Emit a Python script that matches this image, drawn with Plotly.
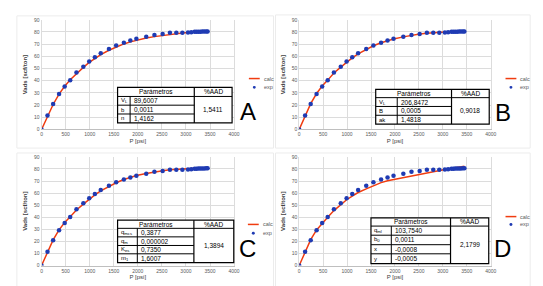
import plotly.graph_objects as go

W, H = 543, 286

# ---- data ----
pressure = [0, 123, 240, 363, 480, 595, 725, 868, 990, 1108, 1230, 1400, 1550, 1710, 1845, 1970,
            2175, 2345, 2516, 2667, 2800, 2926, 3043, 3110, 3180, 3220, 3260, 3300, 3340, 3380, 3420, 3450]
v_exp = [0, 11.5, 21, 29.2, 35.3, 40.3, 46.7, 51.5, 55.8, 59.3, 62.5, 66, 69, 71.2, 73, 74.4,
         76, 77.6, 78.4, 79.3, 79.4, 79.4, 79.5, 79.8, 80.1, 80.2, 80.3, 80.3, 80.4, 80.4, 80.5, 80.5]
v_calc_A = [0, 10.5, 20.5, 29, 35.5, 40.8, 46, 51, 55, 58.3, 61.5, 65, 67.8, 70.2, 71.9, 73.2,
            75, 76.2, 77.2, 78, 78.6, 79.1, 79.5, 79.7, 79.9, 80, 80.1, 80.2, 80.3, 80.3, 80.4, 80.4]
v_calc_B = [0, 11.0, 21.2, 29.5, 35.6, 40.5, 46.3, 51.2, 55.3, 58.8, 62, 65.8, 68.7, 71.2, 73, 74.3,
            76, 77.3, 78.3, 79, 79.5, 79.8, 80.1, 80.2, 80.3, 80.4, 80.5, 80.5, 80.6, 80.6, 80.7, 80.7]
v_calc_C = [0, 11.2, 21.3, 29.6, 35.6, 40.4, 46.0, 50.9, 55.0, 58.5, 61.8, 65.6, 68.6, 71.2, 73.1, 74.5,
            76.3, 77.6, 78.6, 79.3, 79.8, 80.1, 80.3, 80.4, 80.5, 80.6, 80.6, 80.7, 80.7, 80.8, 80.8, 80.8]
v_calc_D = [0, 11, 21.5, 29.5, 35, 40, 45.5, 50.5, 54.5, 57.5, 60.5, 63.5, 66.2, 68.7, 70.2, 71.2,
            72.8, 74.5, 75.9, 77, 78, 78.8, 79.5, 80, 80.5, 80.8, 81.1, 81.4, 81.6, 81.8, 82, 82.2]

x_ticks = [0, 500, 1000, 1500, 2000, 2500, 3000, 3500, 4000]
y_ticks = [0, 10, 20, 30, 40, 50, 60, 70, 80, 90]

param_labels_A = ["V<sub>L</sub>", "b", "n"]
param_values_A = ["89,6007", "0,0011", "1,4162"]
aad_A = "1,5411"
param_labels_B = ["V<sub>L</sub>", "B", "ak"]
param_values_B = ["206,8472", "0,0005", "1,4818"]
aad_B = "0,9018"
param_labels_C = ["q<sub>mcs</sub>", "q<sub>m</sub>", "K<sub>es</sub>", "m<sub>1</sub>"]
param_values_C = ["0,3877", "0,000002", "0,7350", "1,6007"]
aad_C = "1,3894"
param_labels_D = ["q<sub>ml</sub>", "b<sub>0</sub>", "x", "y"]
param_values_D = ["103,7540", "0,0011", "-0,0008", "-0,0005"]
aad_D = "2,1799"

FONT = "Liberation Sans"
RED = "#f03c10"
BLUE = "#1f3bb3"

def px(x):
    return x / W

def py(y):
    return 1 - y / H

panels = [
    dict(letter="A", x=(33, 228), y=(9, 121), calc=v_calc_A, labels=param_labels_A, values=param_values_A,
         aad=aad_A, tab=dict(x=(110, 122.7, 187.7, 226), y=(78, 87.3, 96.2, 105.2, 114.3)),
         lpos=(242, 118), leg=(243, 69, 78), frame=(8, 5, 268, 140)),
    dict(letter="B", x=(294, 488), y=(9, 121), calc=v_calc_B, labels=param_labels_B, values=param_values_B,
         aad=aad_B, tab=dict(x=(371.5, 393.3, 448.3, 486.5), y=(80, 88.5, 97.5, 106.5, 115.5)),
         lpos=(500, 120), leg=(503, 69, 78), frame=(270, 4, 528, 140)),
    dict(letter="C", x=(33, 228), y=(149, 260), calc=v_calc_C, labels=param_labels_C, values=param_values_C,
         aad=aad_C, tab=dict(x=(110, 130, 187.3, 227.7), y=(213.7, 222, 230.7, 239.5, 248, 257)),
         lpos=(242, 258), leg=(242, 218, 227), frame=(8, 145, 268, 284)),
    dict(letter="D", x=(294, 488), y=(149, 260), calc=v_calc_D, labels=param_labels_D, values=param_values_D,
         aad=aad_D, tab=dict(x=(366.7, 387.3, 447.3, 486), y=(211.3, 219.7, 229, 238.7, 248, 258)),
         lpos=(500, 258), leg=(503, 210, 218), frame=(270, 145, 528, 284)),
]

fig = go.Figure()
shapes = []
annotations = []

for i, p in enumerate(panels):
    n = "" if i == 0 else str(i + 1)
    xa, ya = "x" + n, "y" + n
    fig.add_trace(go.Scatter(x=pressure, y=p["calc"], mode="lines", name="calc",
                             line=dict(color=RED, width=1.5), xaxis=xa, yaxis=ya, showlegend=False))
    fig.add_trace(go.Scatter(x=pressure, y=v_exp, mode="markers", name="exp",
                             marker=dict(color=BLUE, size=4.5, symbol="circle"),
                             xaxis=xa, yaxis=ya, showlegend=False))
    axis_common = dict(showgrid=True, gridcolor="#dcdcdc", gridwidth=1, zeroline=False,
                       tickfont=dict(size=5, color="#595959", family=FONT), ticks="")
    fig.layout["xaxis" + n] = dict(axis_common, domain=[px(p["x"][0]), px(p["x"][1])],
                                   range=[0, 4000], tickvals=x_ticks, anchor=ya,
                                   showline=True, linecolor="#bfbfbf", linewidth=1,
                                   title=dict(text="P [psi]", font=dict(size=6, color="#404040", family=FONT),
                                              standoff=2))
    fig.layout["yaxis" + n] = dict(axis_common, domain=[py(p["y"][1]), py(p["y"][0])],
                                   range=[0, 90], tickvals=y_ticks, anchor=xa,
                                   showline=True, linecolor="#dcdcdc", linewidth=1, mirror=True,
                                   title=dict(text="<b>Vads [scf/ton]</b>",
                                              font=dict(size=6, color="#404040", family=FONT), standoff=5))
    fx0, fy0, fx1, fy1 = p["frame"]
    shapes.append(dict(type="rect", xref="paper", yref="paper", x0=px(fx0), x1=px(fx1), y0=py(fy1), y1=py(fy0),
                       line=dict(color="#ececec", width=1), layer="below"))
    tx, ty = p["tab"]["x"], p["tab"]["y"]
    shapes.append(dict(type="rect", xref="paper", yref="paper", x0=px(tx[0]), x1=px(tx[3]),
                       y0=py(ty[-1]), y1=py(ty[0]), fillcolor="white", line=dict(color="black", width=1.2)))
    shapes.append(dict(type="line", xref="paper", yref="paper", x0=px(tx[0]), x1=px(tx[3]),
                       y0=py(ty[1]), y1=py(ty[1]), line=dict(color="black", width=1)))
    for yy in ty[2:-1]:
        shapes.append(dict(type="line", xref="paper", yref="paper", x0=px(tx[0]), x1=px(tx[2]),
                           y0=py(yy), y1=py(yy), line=dict(color="black", width=1)))
    shapes.append(dict(type="line", xref="paper", yref="paper", x0=px(tx[1]), x1=px(tx[1]),
                       y0=py(ty[-1]), y1=py(ty[1]), line=dict(color="black", width=1)))
    shapes.append(dict(type="line", xref="paper", yref="paper", x0=px(tx[2]), x1=px(tx[2]),
                       y0=py(ty[-1]), y1=py(ty[0]), line=dict(color="black", width=1.2)))
    tf = dict(size=6.5, color="black", family=FONT)
    annotations.append(dict(text="Parámetros", x=px((tx[0] + tx[2]) / 2), y=py((ty[0] + ty[1]) / 2),
                            xref="paper", yref="paper", showarrow=False, font=tf,
                            xanchor="center", yanchor="middle"))
    annotations.append(dict(text="%AAD", x=px((tx[2] + tx[3]) / 2), y=py((ty[0] + ty[1]) / 2),
                            xref="paper", yref="paper", showarrow=False, font=tf,
                            xanchor="center", yanchor="middle"))
    for k, (lab, val) in enumerate(zip(p["labels"], p["values"])):
        ym = (ty[k + 1] + ty[k + 2]) / 2
        annotations.append(dict(text=lab, x=px(tx[0] + 1.5), y=py(ym), xref="paper", yref="paper",
                                showarrow=False, font=dict(size=6, color="black", family=FONT),
                                xanchor="left", yanchor="middle"))
        annotations.append(dict(text=val, x=px(tx[1] + 2), y=py(ym), xref="paper", yref="paper",
                                showarrow=False, font=tf, xanchor="left", yanchor="middle"))
    annotations.append(dict(text=p["aad"], x=px((tx[2] + tx[3]) / 2), y=py((ty[1] + ty[-1]) / 2),
                            xref="paper", yref="paper", showarrow=False, font=tf,
                            xanchor="center", yanchor="middle"))
    annotations.append(dict(text=p["letter"], x=px(p["lpos"][0]), y=py(p["lpos"][1]), xref="paper",
                            yref="paper", showarrow=False,
                            font=dict(size=24, color="black", family=FONT),
                            xanchor="center", yanchor="bottom"))
    lx, ly1, ly2 = p["leg"]
    shapes.append(dict(type="line", xref="paper", yref="paper", x0=px(lx), x1=px(lx + 11),
                       y0=py(ly1), y1=py(ly1), line=dict(color=RED, width=1.5)))
    shapes.append(dict(type="circle", xref="paper", yref="paper", x0=px(lx + 4), x1=px(lx + 7),
                       y0=py(ly2 + 1.5), y1=py(ly2 - 1.5), fillcolor=BLUE, line=dict(width=0)))
    lf = dict(size=5.5, color="#595959", family=FONT)
    annotations.append(dict(text="calc", x=px(lx + 13), y=py(ly1), xref="paper", yref="paper",
                            showarrow=False, font=lf, xanchor="left", yanchor="middle"))
    annotations.append(dict(text="exp", x=px(lx + 13), y=py(ly2), xref="paper", yref="paper",
                            showarrow=False, font=lf, xanchor="left", yanchor="middle"))

fig.update_layout(width=W, height=H, margin=dict(l=0, r=0, t=0, b=0),
                  paper_bgcolor="white", plot_bgcolor="white",
                  shapes=shapes, annotations=annotations, showlegend=False,
                  font=dict(family=FONT))

fig.write_html("out.html")
